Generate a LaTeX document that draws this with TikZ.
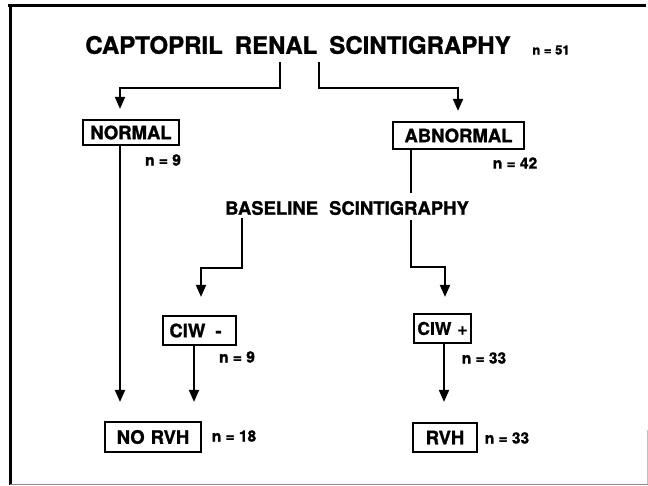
\documentclass[tikz,border=0pt]{standalone}
\usepackage{fontspec}
\setmainfont{TeX Gyre Heros}[BoldFeatures={FakeBold=1.2}]
\usetikzlibrary{arrows.meta}
\begin{document}
\begin{tikzpicture}[x=1pt,y=-1pt,
  conn/.style={line width=2pt,-{Triangle[length=12pt,width=10pt]}},
  plain/.style={line width=2pt},
  box/.style={draw,line width=2.2pt,inner sep=0pt,font=\fontsize{18.5}{18.5}\selectfont\bfseries},
  lbl/.style={inner sep=0pt,font=\fontsize{15.5}{15.5}\selectfont\bfseries},
  head/.style={inner sep=0pt,font=\fontsize{24}{24}\selectfont\bfseries},
  mid/.style={inner sep=0pt,font=\fontsize{18.5}{18.5}\selectfont\bfseries},
]
\useasboundingbox (0,0) rectangle (648,485);
% frame
\draw[line width=3pt] (8,5) -- (646,5);
\draw[line width=3pt] (10,5) -- (10,485);
\draw[line width=1pt,black!45] (10,484) -- (648,484);
\draw[line width=0.8pt,black!25] (647,430) -- (647,484);

% nodes
\node[head] (title) at (298,45) {CAPTOPRIL\hspace{12pt}RENAL\hspace{12pt}SCINTIGRAPHY};
\node[lbl,font=\fontsize{13}{13}\selectfont\bfseries] (n51) at (551,50) {n = 51};
\node[box,minimum width=96pt,minimum height=25pt] (normal) at (131,132.5) {NORMAL};
\node[box,minimum width=131pt,minimum height=27pt] (abnormal) at (458.5,135.5) {ABNORMAL};
\node[lbl] (n9a) at (163,160) {n = 9};
\node[lbl] (n42) at (515,163) {n = 42};
\node[mid] (baseline) at (347,208) {BASELINE\hspace{11pt}SCINTIGRAPHY};
\node[box,minimum width=73pt,minimum height=29pt] (ciwm) at (199.5,330.5) {\hspace{-8pt}CIW\hspace{10pt}-};
\node[lbl] (n9b) at (237,357) {n = 9};
\node[box,minimum width=57pt,minimum height=29pt,font=\fontsize{17.5}{17.5}\selectfont\bfseries] (ciwp) at (442.5,328.5) {CIW\hspace{6pt}+};
\node[lbl] (n33a) at (484,358) {n = 33};
\node[box,minimum width=96pt,minimum height=30pt] (norvh) at (153,437) {NO\hspace{6pt}RVH};
\node[lbl] (n18) at (234,436) {n = 18};
\node[box,minimum width=64pt,minimum height=29pt] (rvh) at (445,437.5) {RVH};
\node[lbl] (n33b) at (507,438) {n = 33};

% bend points
\coordinate (tl) at (280,62);
\coordinate (tlb) at (280,88);
\coordinate (na) at (120,88);
\coordinate (tr) at (319,62);
\coordinate (trb) at (319,88);
\coordinate (ab) at (458,88);
\coordinate (bx) at (411,0);
\coordinate (br1) at (411,220);
\coordinate (br2) at (411,267);
\coordinate (br3) at (445,267);
\coordinate (bl1) at (242,218);
\coordinate (bl2) at (242,268);
\coordinate (bl3) at (201,268);
\coordinate (cm) at (194,0);
\coordinate (cp) at (444,0);

% connectors
\draw[conn,shorten >=10pt] (tl) -- (tlb) -- (na) -- (na |- normal.north);
\draw[conn,shorten >=10pt] (tr) -- (trb) -- (ab) -- (ab |- abnormal.north);
\draw[conn,shorten >=19pt] (normal.south -| na) -- (norvh.north -| na);
\draw[plain] (abnormal.south -| bx) -- (411,193);
\draw[conn,shorten >=16pt] (br1) -- (br2) -- (br3) -- (br3 |- ciwp.north);
\draw[conn,shorten >=18pt] (bl1) -- (bl2) -- (bl3) -- (bl3 |- ciwm.north);
\draw[conn,shorten >=19pt] (ciwm.south -| cm) -- (norvh.north -| cm);
\draw[conn,shorten >=20pt] (ciwp.south -| cp) -- (rvh.north -| cp);
\end{tikzpicture}
\end{document}
